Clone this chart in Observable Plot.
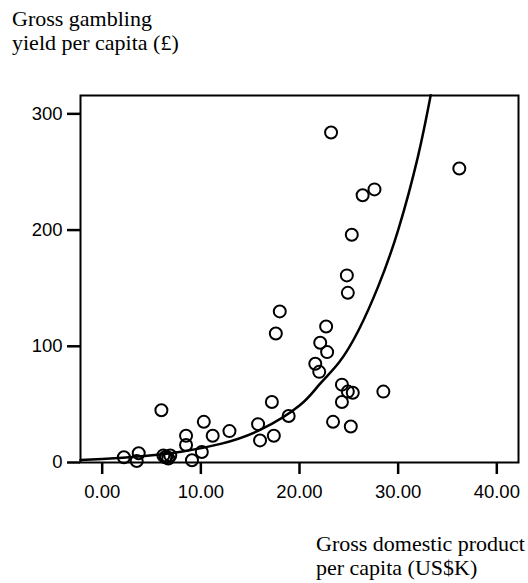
<!DOCTYPE html>
<html><head><meta charset="utf-8">
<script src="https://cdn.jsdelivr.net/npm/d3@7"></script>
<script src="https://cdn.jsdelivr.net/npm/@observablehq/plot@0.6"></script>
<style>
body{margin:0;background:#fff;}
#wrap{position:relative;width:528px;height:583px;overflow:hidden;background:#fff;}
#chart{position:absolute;left:0;top:0;}
.lab{position:absolute;font-family:"Liberation Serif","Times New Roman",serif;font-size:22px;line-height:24px;color:#000;white-space:nowrap;}
</style></head><body>
<div id="wrap">
<div id="chart"></div>
<div class="lab" style="left:12px;top:7px;">Gross gambling<br>yield per capita (£)</div>
<div class="lab" style="left:316px;top:532px;">Gross domestic product<br>per capita (US$K)</div>
</div>
<script>
// GDP per capita (US$K)
const gdp = [23.2, 36.2, 27.6, 26.4, 25.3, 24.8, 24.9, 18.0, 17.6, 22.7, 22.1, 22.8, 21.6, 22.0,
  17.2, 18.9, 17.4, 16.0, 15.8, 24.3, 24.9, 25.4, 24.3, 28.5, 23.4, 25.2,
  6.0, 10.3, 12.9, 11.2, 8.5, 8.5, 10.1, 9.1, 2.2, 3.7, 3.5, 6.2, 6.5, 6.9, 6.7, 6.4];
// Gross gambling yield per capita (£)
const gamblingYield = [284, 253, 235, 230, 196, 161, 146, 130, 111, 117, 103, 95, 85, 78,
  52, 40, 23, 19, 33, 67, 61, 60, 52, 61, 35, 31,
  45, 35, 27, 23, 23, 15, 9, 2, 4.5, 8, 1.3, 6, 5, 6, 3.5, 4.5];
// fitted curve
const curveX = [-2.2, 0, 4, 8, 12, 16, 20, 22, 24, 26, 28, 30, 32, 33.3];
const curveY = [2.2, 3.0, 5.3, 9.2, 16, 28, 49, 67, 86, 114, 152, 200, 263, 316];
const xTicks = [0, 10, 20, 30, 40];
const yTicks = [0, 100, 200, 300];

const points = gdp.map((g, i) => ({x: g, y: gamblingYield[i]}));
const curve = curveX.map((c, i) => ({x: c, y: curveY[i]}));

const chart = Plot.plot({
  width: 528,
  height: 583,
  marginLeft: 80,
  marginRight: 10,
  marginTop: 95,
  marginBottom: 121,
  style: {fontFamily: "'Liberation Sans', Arial, sans-serif", background: "white", color: "black"},
  x: {domain: [-2.2, 42.2]},
  y: {domain: [0, 315.8]},
  marks: [
    Plot.frame({strokeWidth: 2}),
    Plot.line(curve, {x: "x", y: "y", curve: "natural", stroke: "black", strokeWidth: 2.5}),
    Plot.dot(points, {x: "x", y: "y", r: 6, stroke: "black", strokeWidth: 2, fill: "none"}),
    Plot.axisX({ticks: xTicks, tickFormat: d3.format(".2f"), tickSize: 12, tickPadding: 10, fontSize: 18.5, strokeWidth: 2.5, label: null}),
    Plot.axisY({ticks: yTicks, tickSize: 13, tickPadding: 5, fontSize: 18.5, strokeWidth: 2.5, label: null})
  ]
});
document.getElementById("chart").appendChild(chart);
</script>
</body></html>
